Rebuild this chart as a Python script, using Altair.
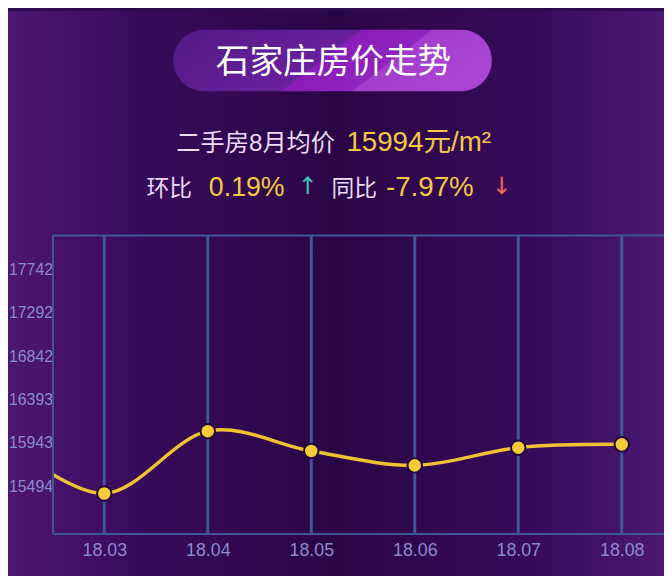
import json
import altair as alt
import pandas as pd

# ---- data ----
months = [2, 3, 4, 5, 6, 7, 8]
month_labels = ["18.02", "18.03", "18.04", "18.05", "18.06", "18.07", "18.08"]
prices = [15990, 15418, 16065, 15859, 15710, 15894, 15928]
y_ticks = [15494, 15943, 16393, 16842, 17292, 17742]

title_text = "石家庄房价走势"
headline_label = "二手房8月均价"
headline_value = "15994元/m²"
mom_label = "环比"
mom_value = "0.19%"
yoy_label = "同比"
yoy_value = "-7.97%"
up_arrow = "↑"
down_arrow = "↓"

df = pd.DataFrame({"month": months, "label": month_labels, "price": prices})

# ---- layout / style ----
W, H = 618, 301
STEP = 104.6
x_domain = [2.5, 2.5 + W / STEP]
y_domain = [15004, 18094]
GRID = "#3f5697"
AXIS_LABEL = "#8a8bcc"
LIGHT = "#eadcf4"
YELLOW = "#f3c845"
FONT = "Liberation Sans, Noto Sans CJK SC"
CJK = "Noto Sans CJK SC, Liberation Sans"

label_expr = "[" + ",".join(json.dumps(l) for l in month_labels) + "][datum.value - 2]"

x_enc = alt.X(
    "month:Q",
    scale=alt.Scale(domain=x_domain, nice=False, zero=False),
    axis=alt.Axis(
        values=months[1:], labelExpr=label_expr, grid=False, ticks=False,
        domainColor=GRID, domainWidth=2, labelColor=AXIS_LABEL, labelFontSize=18,
        labelFont="Liberation Sans", labelPadding=8, title=None, zindex=1,
    ),
)
y_enc = alt.Y(
    "price:Q",
    scale=alt.Scale(domain=y_domain, nice=False, zero=False),
    axis=alt.Axis(
        values=y_ticks, format="d", grid=False, ticks=False,
        domainColor=GRID, domainWidth=2, labelColor=AXIS_LABEL, labelFontSize=16,
        labelFont="Liberation Sans", labelPadding=0, title=None, zindex=1,
    ),
)

one = alt.Data(values=[{"a": 1}])

bg_grad = alt.Gradient(
    gradient="linear", x1=0, x2=1, y1=0, y2=0,
    stops=[
        alt.GradientStop(color="#4d1672", offset=0),
        alt.GradientStop(color="#380b5a", offset=0.2),
        alt.GradientStop(color="#2a0546", offset=0.5),
        alt.GradientStop(color="#370b5a", offset=0.8),
        alt.GradientStop(color="#4b1874", offset=1),
    ],
)
bg = alt.Chart(one).mark_rect(color=bg_grad).encode(
    x=alt.value(-45), x2=alt.value(W + 2), y=alt.value(-227), y2=alt.value(H + 45)
)

pill_grad = alt.Gradient(
    gradient="linear", x1=0, x2=1, y1=0, y2=0.25,
    stops=[
        alt.GradientStop(color="#511a84", offset=0),
        alt.GradientStop(color="#6a1f9c", offset=0.55),
        alt.GradientStop(color="#8a1db8", offset=0.56),
        alt.GradientStop(color="#9024bf", offset=0.76),
        alt.GradientStop(color="#a43dcc", offset=0.77),
        alt.GradientStop(color="#a843d2", offset=1),
    ],
)
pill = alt.Chart(one).mark_rect(color=pill_grad, cornerRadius=31).encode(
    x=alt.value(122), x2=alt.value(444), y=alt.value(-208), y2=alt.value(-146)
)


def txt(s, x, y, size, color, font=FONT, align="left"):
    return alt.Chart(one).mark_text(
        text=s, fontSize=size, color=color, font=font, align=align, baseline="middle"
    ).encode(x=alt.value(x), y=alt.value(y))


texts = [
    txt(title_text, 284, -174, 34, "#ffffff", font=CJK, align="center"),
    txt(headline_label, 125, -92, 24.5, LIGHT),
    txt(headline_value, 297, -93, 28, YELLOW),
    txt(mom_label, 95, -47, 23, LIGHT),
    txt(mom_value, 158, -48, 27, YELLOW),
    txt(up_arrow, 258, -49, 24, "#3fc6b8", font="DejaVu Sans", align="center"),
    txt(yoy_label, 282, -47, 23, LIGHT),
    txt(yoy_value, 337, -48, 28, YELLOW),
    txt(down_arrow, 454, -49, 24, "#ee6a4e", font="DejaVu Sans", align="center"),
]

base = alt.Chart(df)
grid = base.transform_filter("datum.month >= 3").mark_rule(
    color=GRID, strokeWidth=3
).encode(x=x_enc)
top_rule = alt.Chart(one).mark_rule(color=GRID, strokeWidth=2).encode(
    x=alt.value(0), x2=alt.value(W), y=alt.value(0)
)
line = base.mark_line(
    interpolate="cardinal", color="#efc234", strokeWidth=3.5, clip=True
).encode(x=x_enc, y=y_enc)
points = base.transform_filter("datum.month >= 3").mark_circle(
    size=215, color="#f6cb38", opacity=1, stroke="#230640", strokeWidth=2, clip=True
).encode(x=x_enc, y=y_enc)

chart = alt.layer(bg, pill, *texts, grid, top_rule, line, points).properties(
    width=W, height=H,
    padding={"left": 45, "top": 227, "right": 0, "bottom": 40},
    autosize=alt.AutoSizeParams(type="none"),
    background="#2e0a4e",
).configure_view(stroke=None)

chart.save("out.html", embed_options={"renderer": "svg", "actions": False})
